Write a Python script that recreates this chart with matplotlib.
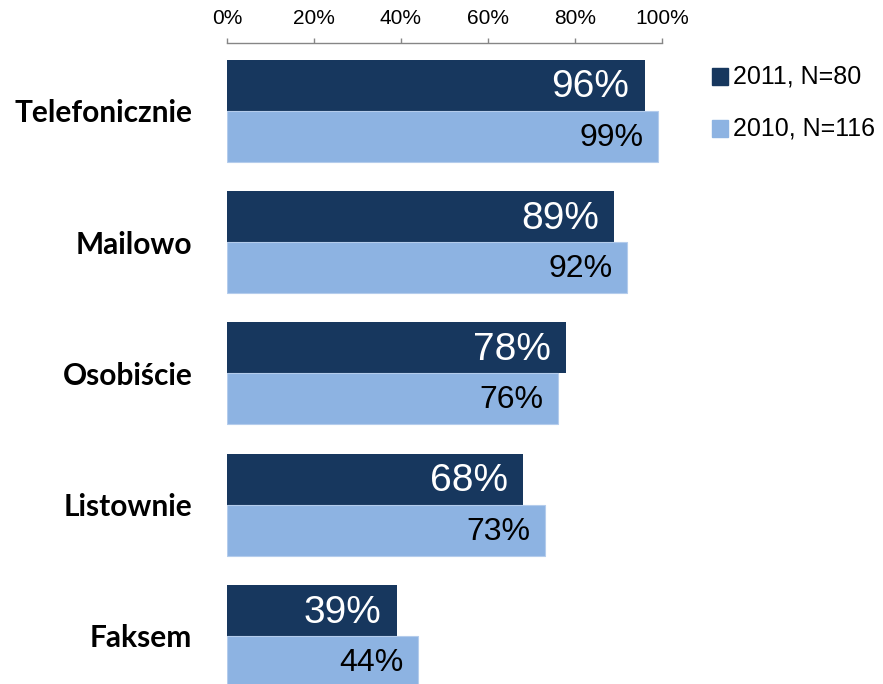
import matplotlib
matplotlib.use("Agg")
import matplotlib.pyplot as plt
from matplotlib.patches import Rectangle
from matplotlib.ticker import PercentFormatter

CATEGORIES = ["Telefonicznie", "Mailowo", "Osobiście", "Listownie", "Faksem"]
VALUES_2011 = [96, 89, 78, 68, 39]
VALUES_2010 = [99, 92, 76, 73, 44]
SERIES_LABELS = ["2011, N=80", "2010, N=116"]
X_TICKS = [0, 20, 40, 60, 80, 100]

DARK = "#17375E"
LIGHT = "#8DB3E2"
AXIS_CLR = "#868686"
NUM_FONT = "Liberation Sans"
CAT_FONT = "Lato"

W, H, DPI = 883, 684, 100
BAR_H = 0.388

fig = plt.figure(figsize=(W / DPI, H / DPI), dpi=DPI)
fig.patch.set_facecolor("white")

# axes spans from the 0% tick to the 100% tick, top spine carries the scale
ax_top_px = 43
ax = fig.add_axes([227 / W, 0, 435 / W, (H - ax_top_px) / H])

pos = list(range(len(CATEGORIES)))
y_2011 = [p - BAR_H / 2 for p in pos]
y_2010 = [p + BAR_H / 2 for p in pos]

ax.barh(y_2011, VALUES_2011, height=BAR_H, color=DARK, zorder=2)
ax.barh(y_2010, VALUES_2010, height=BAR_H, color=LIGHT,
        edgecolor="#B4CCEC", linewidth=0.8, zorder=2)

for y, v in zip(y_2011, VALUES_2011):
    ax.annotate(f"{v}%", (v, y), xytext=(-11, -1.5), textcoords="offset points",
                ha="right", va="center", color="white", fontsize=28,
                family=NUM_FONT)
for y, v in zip(y_2010, VALUES_2010):
    ax.annotate(f"{v}%", (v, y), xytext=(-10.5, -1), textcoords="offset points",
                ha="right", va="center", color="black", fontsize=23,
                family=NUM_FONT)

ax.set_xlim(0, 100)
px_per_unit = 131.3
ax.set_ylim((H - 110.75) / px_per_unit, (ax_top_px - 110.75) / px_per_unit)

ax.xaxis.tick_top()
ax.set_xticks(X_TICKS)
ax.xaxis.set_major_formatter(PercentFormatter(decimals=0))
ax.tick_params(axis="x", length=3.6, width=1, color=AXIS_CLR, pad=7,
               labelsize=15, direction="out")
for lbl in ax.get_xticklabels():
    lbl.set_family(NUM_FONT)

ax.set_yticks(pos)
ax.set_yticklabels(CATEGORIES, family=CAT_FONT, fontweight="bold", fontsize=21.5)
ax.tick_params(axis="y", length=0, pad=25)

for side in ["left", "right", "bottom"]:
    ax.spines[side].set_visible(False)
ax.spines["top"].set_color(AXIS_CLR)
ax.spines["top"].set_linewidth(1)
ax.set_facecolor("none")

# legend drawn as square swatches with labels to the right
for i, (label, color) in enumerate(zip(SERIES_LABELS, [DARK, LIGHT])):
    cy = 76.5 + i * 52
    fig.patches.append(Rectangle((712 / W, 1 - (cy + 8.5) / H), 16 / W, 17 / H,
                                 transform=fig.transFigure, color=color))
    fig.text(733 / W, 1 - cy / H, label, fontsize=18, family=NUM_FONT,
             va="center", ha="left")

fig.savefig("out.png", dpi=DPI)
